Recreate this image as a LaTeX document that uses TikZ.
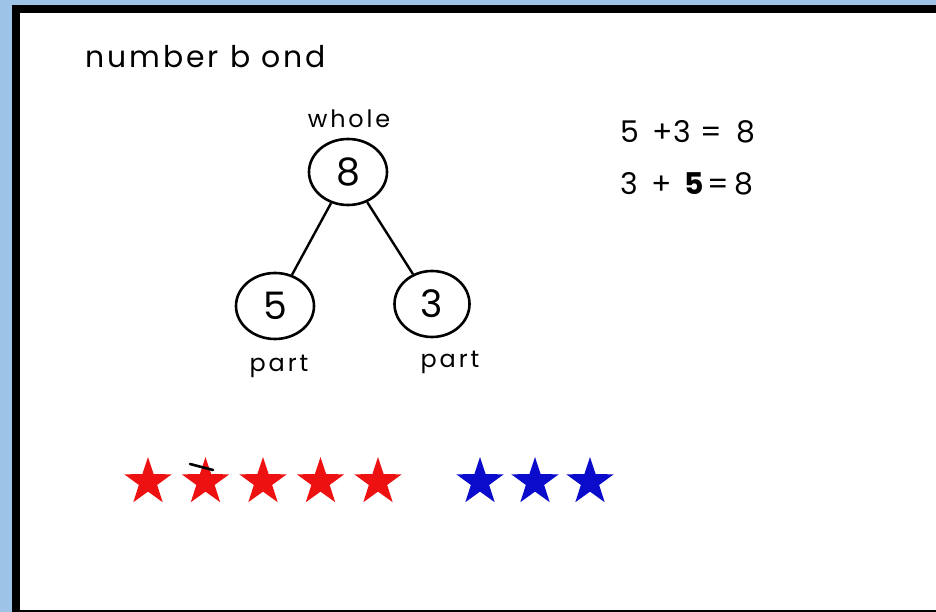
\documentclass[tikz,border=0pt]{standalone}
\usepackage{fontspec}
\setmainfont{Poppins}
\usetikzlibrary{shapes.geometric}
\begin{document}
\begin{tikzpicture}[x=1bp,y=1bp,line join=round,
  bubble/.style={ellipse,draw=black,line width=2.6bp,minimum width=78bp,minimum height=66bp,inner sep=0pt,font=\fontsize{38}{42}\selectfont},
  hand/.style={inner sep=0pt,font=\fontsize{24}{28}\selectfont\addfontfeatures{LetterSpace=12}},
  sumtext/.style={inner sep=0pt,anchor=base west,font=\fontsize{30}{33}\selectfont},
  starbox/.style={star,star points=5,star point ratio=2.6,minimum size=50bp,inner sep=0pt,draw=none}]
\definecolor{frameblue}{HTML}{9DC3E6}
\definecolor{starred}{HTML}{EE1111}
\definecolor{starblue}{HTML}{0B0BCC}
\fill[frameblue] (0,0) rectangle (936,612);
\fill[black] (12,0) rectangle (936,607);
\fill[white] (20,2) rectangle (936,599);
\node[inner sep=0pt,anchor=base west,font=\fontsize{30}{34}\selectfont\addfontfeatures{LetterSpace=10}] (title) at (85,544) {number b ond};
\node[bubble] (whole) at (348,440) {8};
\node[bubble] (partA) at (275,306) {5};
\node[bubble,minimum width=75bp] (partB) at (432,308) {3};
\draw[line width=2.4bp] (whole) -- (partA);
\draw[line width=2.4bp] (whole) -- (partB);
\node[hand] (wlabel) at (349,493) {whole};
\node[hand] (plabelA) at (279,246) {part};
\node[hand] (plabelB) at (450,250) {part};
\node[sumtext] (sumA) at (620,469) {5\hspace{14bp}+3\hspace{10bp}=\hspace{14bp}8};
\node[sumtext] (sumB) at (620,417) {3\hspace{14bp}+\hspace{12bp}\textbf{5}\hspace{4bp}=\hspace{5bp}8};
\foreach \i/\x in {1/148,2/205.5,3/263,4/320.5,5/378}
  \node[starbox,fill=starred] (red\i) at (\x,130) {};
\foreach \i/\x in {1/480,2/535,3/590}
  \node[starbox,fill=starblue] (blue\i) at (\x,130) {};
\draw[line width=2.6bp,line cap=round] (190,148) -- (213,142);
\end{tikzpicture}
\end{document}
